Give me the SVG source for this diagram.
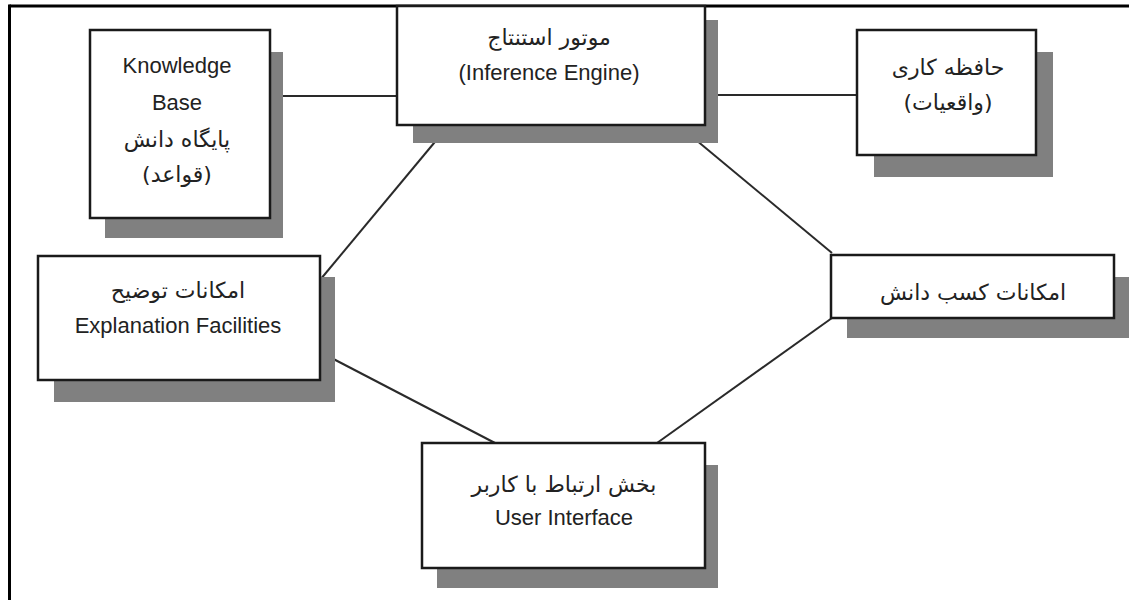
<svg xmlns="http://www.w3.org/2000/svg" width="1129" height="600" viewBox="0 0 1129 600">
  <style>
    .shadow { fill: #808080; }
    .box { fill: #ffffff; stroke: #1a1a1a; stroke-width: 2.5; }
    .t { font-family: "Liberation Sans", "DejaVu Sans", sans-serif; font-size: 22px; fill: #222; text-anchor: middle; }
    .fa { font-family: "DejaVu Sans", "Liberation Sans", sans-serif; font-size: 22px; fill: #222; text-anchor: middle; }
    .conn line { stroke: #2a2a2a; stroke-width: 2; }
  </style>
  <rect width="1129" height="600" fill="#ffffff"/>
  <g id="frame" stroke="#000" stroke-width="3" fill="none">
    <line x1="9.5" y1="6" x2="1129" y2="6"/>
    <line x1="9.5" y1="4.5" x2="9.5" y2="600"/>
  </g>
  <g id="connectors" class="conn">
    <line x1="270" y1="96" x2="397" y2="96"/>
    <line x1="705" y1="95" x2="857" y2="95"/>
    <line x1="449" y1="125" x2="320" y2="280"/>
    <line x1="678" y1="125" x2="832" y2="253"/>
    <line x1="320" y1="352" x2="495" y2="443"/>
    <line x1="657" y1="443" x2="832" y2="318"/>
  </g>
  <g id="knowledge-base">
    <rect class="shadow" x="105" y="52" width="178" height="186"/>
    <rect class="box" x="90" y="30" width="180" height="188"/>
    <text class="t" x="177" y="73">Knowledge</text>
    <text class="t" x="177" y="110">Base</text>
    <text class="fa" x="177" y="147" direction="rtl">پایگاه دانش</text>
    <text class="fa" x="177" y="182" direction="rtl">(قواعد)</text>
  </g>
  <g id="inference-engine">
    <rect class="shadow" x="413" y="20" width="305" height="123"/>
    <rect class="box" x="397" y="6" width="308" height="119"/>
    <text class="fa" x="549" y="45" direction="rtl">موتور استنتاج</text>
    <text class="t" x="549" y="80">(Inference Engine)</text>
  </g>
  <g id="working-memory">
    <rect class="shadow" x="874" y="52" width="179" height="125"/>
    <rect class="box" x="857" y="30" width="179" height="125"/>
    <text class="fa" x="948" y="75" direction="rtl">حافظه کاری</text>
    <text class="fa" x="948" y="110" direction="rtl">(واقعیات)</text>
  </g>
  <g id="explanation-facilities">
    <rect class="shadow" x="54" y="277" width="281" height="125"/>
    <rect class="box" x="38" y="256" width="282" height="124"/>
    <text class="fa" x="178" y="298" direction="rtl">امکانات توضیح</text>
    <text class="t" x="178" y="333">Explanation Facilities</text>
  </g>
  <g id="knowledge-acquisition">
    <rect class="shadow" x="847" y="277" width="282" height="61"/>
    <rect class="box" x="831" y="255" width="283" height="63"/>
    <text class="fa" x="973" y="300" direction="rtl">امکانات کسب دانش</text>
  </g>
  <g id="user-interface">
    <rect class="shadow" x="437" y="465" width="281" height="123"/>
    <rect class="box" x="422" y="443" width="283" height="125"/>
    <text class="fa" x="564" y="492" direction="rtl">بخش ارتباط با کاربر</text>
    <text class="t" x="564" y="525">User Interface</text>
  </g>
</svg>
